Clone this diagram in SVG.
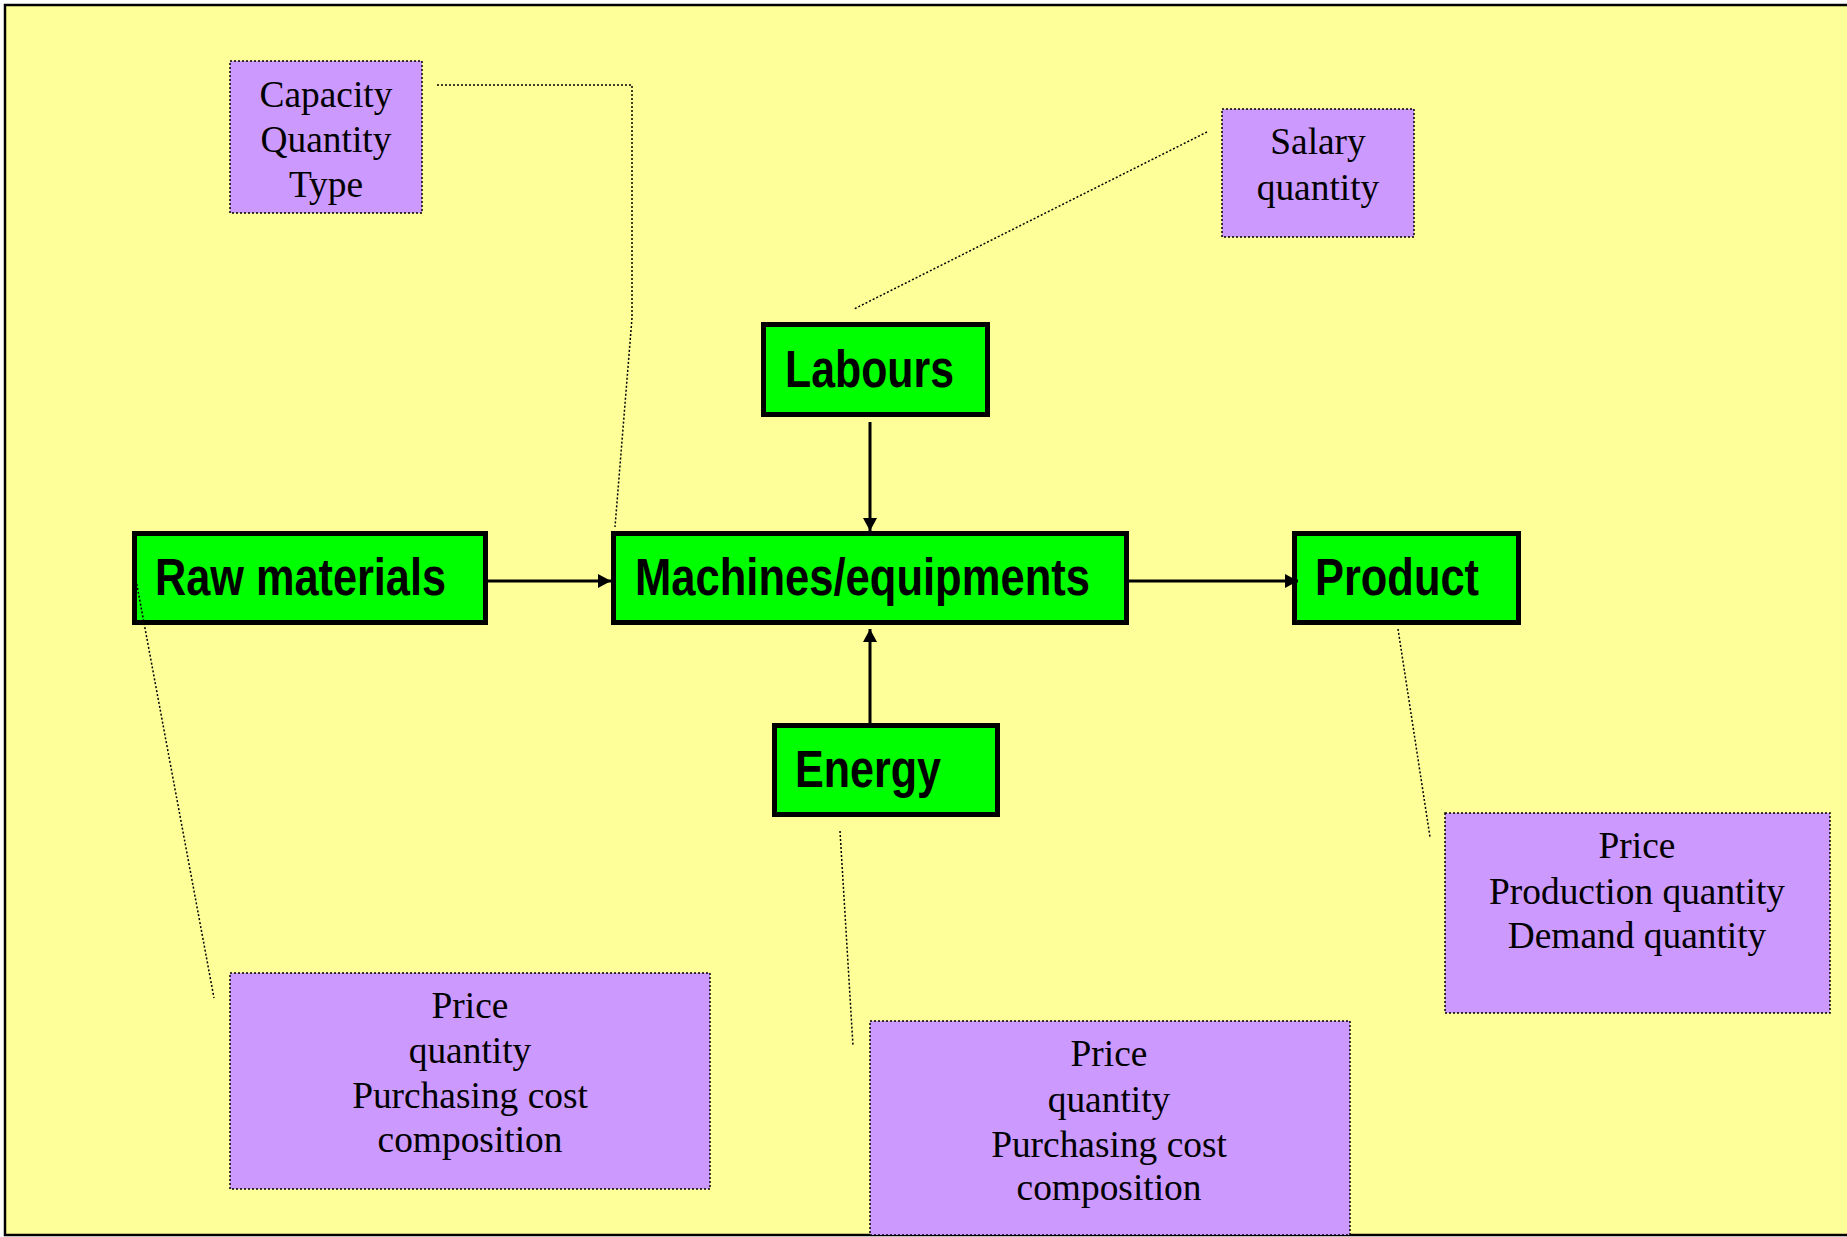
<svg xmlns="http://www.w3.org/2000/svg" width="1847" height="1237" viewBox="0 0 1847 1237">
<style>
.bg{fill:#FFFF99}
.frame{stroke:#000;stroke-width:2.5;fill:none}
.node rect{fill:#00FF00;stroke:#000;stroke-width:5}
.node text{font-family:"Liberation Sans",Arial,sans-serif;font-weight:bold;font-size:51px;fill:#000}
.note rect{fill:#CC99FF;stroke:#000;stroke-width:1.5;stroke-dasharray:2 2}
.note text{font-family:"Liberation Serif","Times New Roman",serif;font-size:37.4px;fill:#000;text-anchor:middle}
.arrow{stroke:#000;stroke-width:3;fill:none}
.dot{stroke:#000;stroke-width:1.5;stroke-dasharray:2 2;fill:none}
</style>
<defs>
<marker id="ah" markerUnits="userSpaceOnUse" markerWidth="14" markerHeight="14" refX="13" refY="7" orient="auto">
<path d="M0,0 L13,7 L0,14 Z" fill="#000"/>
</marker>
</defs>
<rect x="0" y="0" width="1847" height="1237" fill="#FFFFFF"/>
<rect class="bg" x="5" y="5" width="1842" height="1230"/>
<path class="frame" d="M1847,5 L5,5 L5,1235 L1847,1235"/>

<g id="capacity-note" class="note">
<rect x="230" y="61" width="192" height="152"/>
<text x="326" y="107">Capacity</text>
<text x="326" y="152">Quantity</text>
<text x="326" y="197">Type</text>
</g>

<g id="salary-note" class="note">
<rect x="1222" y="109" width="192" height="128"/>
<text x="1318" y="154">Salary</text>
<text x="1318" y="200">quantity</text>
</g>

<g id="labours" class="node">
<rect x="763.5" y="324.5" width="224" height="90"/>
<text x="785" y="387" textLength="169" lengthAdjust="spacingAndGlyphs">Labours</text>
</g>

<g id="raw-materials" class="node">
<rect x="134.5" y="533.5" width="351" height="89"/>
<text x="155" y="595" textLength="291" lengthAdjust="spacingAndGlyphs">Raw materials</text>
</g>

<g id="machines" class="node">
<rect x="613.5" y="533.5" width="513" height="89"/>
<text x="635" y="595" textLength="455" lengthAdjust="spacingAndGlyphs">Machines/equipments</text>
</g>

<g id="product" class="node">
<rect x="1294.5" y="533.5" width="224" height="89"/>
<text x="1315" y="595" textLength="164" lengthAdjust="spacingAndGlyphs">Product</text>
</g>

<g id="energy" class="node">
<rect x="774.5" y="725.5" width="223" height="89"/>
<text x="795" y="787" textLength="146" lengthAdjust="spacingAndGlyphs">Energy</text>
</g>

<g id="raw-note" class="note">
<rect x="230" y="973" width="480" height="216"/>
<text x="470" y="1018">Price</text>
<text x="470" y="1063">quantity</text>
<text x="470" y="1108">Purchasing cost</text>
<text x="470" y="1152">composition</text>
</g>

<g id="energy-note" class="note">
<rect x="870" y="1021" width="480" height="214"/>
<text x="1109" y="1066">Price</text>
<text x="1109" y="1112">quantity</text>
<text x="1109" y="1157">Purchasing cost</text>
<text x="1109" y="1200">composition</text>
</g>

<g id="product-note" class="note">
<rect x="1445" y="813" width="385" height="200"/>
<text x="1637" y="858">Price</text>
<text x="1637" y="904">Production quantity</text>
<text x="1637" y="948">Demand quantity</text>
</g>

<g id="connectors">
<polyline class="dot" points="437,85 632,85 632,318 615,527"/>
<line class="dot" x1="1207" y1="132" x2="854" y2="309"/>
<line class="dot" x1="136" y1="580" x2="214" y2="998"/>
<line class="dot" x1="840" y1="831" x2="853" y2="1046"/>
<line class="dot" x1="1398" y1="629" x2="1430" y2="837"/>
<line class="arrow" x1="488" y1="581" x2="611" y2="581" marker-end="url(#ah)"/>
<line class="arrow" x1="1129" y1="581" x2="1298" y2="581" marker-end="url(#ah)"/>
<line class="arrow" x1="870" y1="422" x2="870" y2="531" marker-end="url(#ah)"/>
<line class="arrow" x1="870" y1="723" x2="870" y2="629" marker-end="url(#ah)"/>
</g>
</svg>
